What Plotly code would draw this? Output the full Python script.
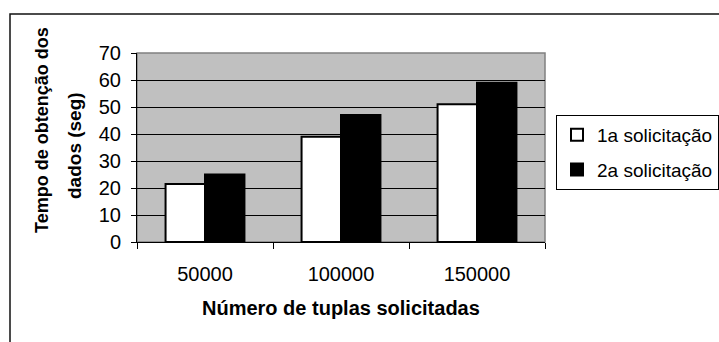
import plotly.graph_objects as go

# Number of requested tuples (categories) and retrieval time in seconds
categorias = ["50000", "100000", "150000"]
primeira = [21.5, 39, 51]
segunda = [25, 47, 59]
nomes = ["1a solicitação", "2a solicitação"]
y_ticks = [0, 10, 20, 30, 40, 50, 60, 70]

W, H = 719, 342
L, R, T, B = 137, 174, 53, 100
PW, PH = W - L - R, H - T - B


def px_x(px):
    return (px - L) / PW


def px_y(py):
    return (H - B - py) / PH


FONT = "Liberation Sans, Arial, sans-serif"

fig = go.Figure()
fig.add_trace(go.Bar(
    x=categorias, y=primeira, name=nomes[0], legendgroup="a",
    marker=dict(color="white", line=dict(color="black", width=2)),
))
fig.add_trace(go.Bar(
    x=categorias, y=segunda, name=nomes[1], legendgroup="b",
    marker=dict(color="black", line=dict(color="black", width=2)),
))

shapes = [
    # outer chart frame
    dict(type="rect", xref="paper", yref="paper",
         x0=px_x(10), x1=px_x(740), y0=px_y(360), y1=px_y(14),
         line=dict(color="#111111", width=1.5), fillcolor="rgba(0,0,0,0)", layer="below"),
    # plot-area border
    dict(type="rect", xref="paper", yref="paper", x0=0, x1=1, y0=0, y1=1,
         line=dict(color="#808080", width=1.5), fillcolor="rgba(0,0,0,0)", layer="below"),
]

annotations = [
    dict(text="<b>Número de tuplas solicitadas</b>", xref="paper", yref="paper",
         x=0.5, y=px_y(308), xanchor="center", yanchor="middle", showarrow=False,
         font=dict(family=FONT, size=20, color="black")),
    dict(text="<b>Tempo de obtenção dos</b>", xref="paper", yref="paper",
         x=px_x(42), y=px_y(130), xanchor="center", yanchor="middle", showarrow=False,
         textangle=-90, font=dict(family=FONT, size=18, color="black")),
    dict(text="<b>dados (seg)</b>", xref="paper", yref="paper",
         x=px_x(74), y=px_y(146), xanchor="center", yanchor="middle", showarrow=False,
         textangle=-90, font=dict(family=FONT, size=19, color="black")),
]

fig.update_layout(
    width=W, height=H,
    margin=dict(l=L, r=R, t=T, b=B, autoexpand=False),
    paper_bgcolor="white",
    plot_bgcolor="#c0c0c0",
    barmode="group", bargap=0.42, bargroupgap=0,
    font=dict(family=FONT, size=20, color="black"),
    shapes=shapes,
    annotations=annotations,
    legend=dict(
        x=px_x(556), y=px_y(115), xanchor="left", yanchor="top",
        bgcolor="white", bordercolor="black", borderwidth=1,
        traceorder="grouped", tracegroupgap=7,
        font=dict(family=FONT, size=19, color="black"),
    ),
    xaxis=dict(
        type="category", tickson="boundaries", ticks="outside", ticklen=6,
        tickcolor="black", showline=True, linecolor="black", linewidth=1,
        showgrid=False, tickfont=dict(size=20), ticklabelstandoff=14,
        automargin=False,
    ),
    yaxis=dict(
        range=[0, 70], tickvals=y_ticks, ticks="outside", ticklen=5,
        tickcolor="black", showline=True, linecolor="black", linewidth=1,
        showgrid=True, gridcolor="black", gridwidth=1,
        zeroline=False, tickfont=dict(size=20), ticklabelstandoff=6,
        automargin=False,
    ),
)

fig.write_html("out.html")
